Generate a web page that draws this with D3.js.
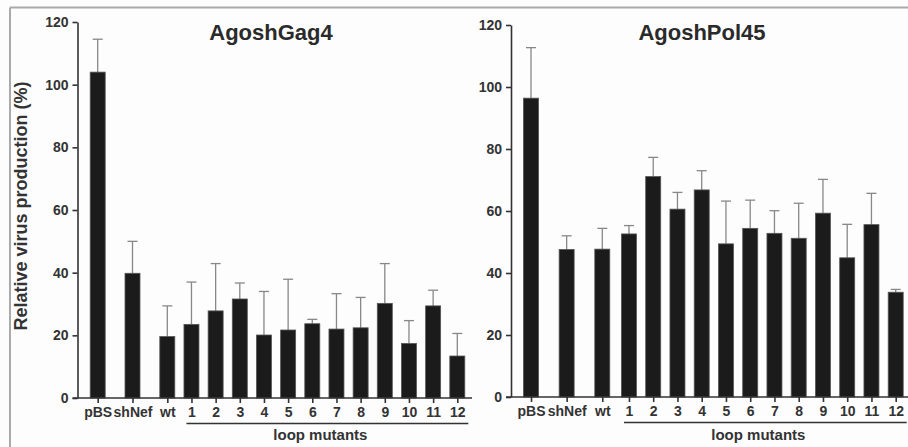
<!DOCTYPE html>
<html>
<head>
<meta charset="utf-8">
<script src="https://cdn.jsdelivr.net/npm/d3@7"></script>
<style>
  body { margin: 0; background: #fdfdfd; }
  svg { display: block; font-family: "Liberation Sans", Arial, sans-serif; }
  .axis path, .axis line { stroke: #333; stroke-width: 1.6; }
  .axis text { fill: #333; font-weight: bold; font-family: "Liberation Sans", Arial, sans-serif; }
</style>
</head>
<body>
<div id="chart"></div>
<script>
// categories along the x axis (same for both panels)
var categories = ["pBS", "shNef", "wt", "1", "2", "3", "4", "5", "6", "7", "8", "9", "10", "11", "12"];
var yTicks = [0, 20, 40, 60, 80, 100, 120];

// AgoshGag4 panel: mean and upper error (SD)
var gagMeans = [104, 39.8, 19.6, 23.5, 27.8, 31.6, 20.1, 21.7, 23.7, 22.0, 22.4, 30.2, 17.4, 29.4, 13.4];
var gagErr   = [10.5, 10.2, 9.8, 13.5, 15.1, 5.1, 13.9, 16.2, 1.4, 11.3, 9.7, 12.7, 7.3, 5.0, 7.2];

// AgoshPol45 panel
var polMeans = [96.4, 47.6, 47.7, 52.6, 71.1, 60.6, 66.8, 49.4, 54.4, 52.8, 51.2, 59.3, 44.9, 55.6, 33.8];
var polErr   = [16.3, 4.4, 6.7, 2.7, 6.2, 5.4, 6.2, 13.8, 9.1, 7.3, 11.3, 10.9, 10.8, 10.1, 0.9];

var width = 908, height = 447;

var svg = d3.select("#chart").append("svg")
  .attr("width", width)
  .attr("height", height);

svg.append("rect").attr("width", width).attr("height", height).attr("fill", "#fdfdfd");

// grey frame (top and left edges only are visible)
svg.append("line").attr("x1", 10).attr("x2", width).attr("y1", 7.5).attr("y2", 7.5)
  .attr("stroke", "#aaa").attr("stroke-width", 2);
svg.append("line").attr("x1", 10).attr("x2", 10).attr("y1", 7.5).attr("y2", height)
  .attr("stroke", "#aaa").attr("stroke-width", 2);

// draw one panel
function drawPanel(p) {
  var g = svg.append("g");

  // slot position of each category: controls wider apart, then mutants
  function slot(i) {
    return i <= 2 ? i * p.ctrlStep : 2 * p.ctrlStep + p.mutGap + (i - 3);
  }
  var lastSlot = slot(categories.length - 1);

  var xLinear = d3.scaleLinear().domain([0, lastSlot]).range([p.x0, p.x1]);
  var x = d3.scaleOrdinal()
    .domain(categories)
    .range(categories.map((c, i) => xLinear(slot(i))));

  var y = d3.scaleLinear().domain([0, 120]).range([p.yBottom, p.yTop]);

  var barW = 15;

  // error bars (drawn behind bars)
  var err = g.selectAll(".err")
    .data(categories)
    .enter()
    .append("g")
    .attr("class", "err");

  err.append("line")
    .attr("x1", d => x(d)).attr("x2", d => x(d))
    .attr("y1", (d, i) => y(p.means[i]))
    .attr("y2", (d, i) => y(p.means[i] + p.err[i]))
    .attr("stroke", "#888").attr("stroke-width", 1.3);

  err.append("line")
    .attr("x1", d => x(d) - 5).attr("x2", d => x(d) + 5)
    .attr("y1", (d, i) => y(p.means[i] + p.err[i]))
    .attr("y2", (d, i) => y(p.means[i] + p.err[i]))
    .attr("stroke", "#888").attr("stroke-width", 1.3);

  // bars
  g.selectAll(".bar")
    .data(categories)
    .enter()
    .append("rect")
    .attr("class", "bar")
    .attr("x", d => x(d) - barW / 2)
    .attr("width", barW)
    .attr("y", (d, i) => y(p.means[i]))
    .attr("height", (d, i) => y(0) - y(p.means[i]))
    .attr("fill", "#1b1b1b")
    .attr("stroke", "#555")
    .attr("stroke-width", 0.8);

  // y axis
  var yAxis = g.append("g")
    .attr("class", "axis")
    .attr("transform", `translate(${p.axisX},0)`)
    .call(d3.axisLeft(y).tickValues(yTicks).tickSize(5).tickSizeOuter(0).tickPadding(4));
  yAxis.attr("font-size", null).attr("font-family", null);
  yAxis.selectAll("text").style("font-size", "14px");

  // x axis
  var xAxis = g.append("g")
    .attr("class", "axis")
    .attr("transform", `translate(0,${p.yBottom})`)
    .call(d3.axisBottom(x).tickSize(5).tickPadding(4));
  xAxis.attr("font-size", null).attr("font-family", null);
  xAxis.select(".domain").remove();
  xAxis.selectAll("text").style("font-size", "14px");
  g.append("line")
    .attr("x1", p.axisX - 5).attr("x2", p.xEnd)
    .attr("y1", p.yBottom).attr("y2", p.yBottom)
    .attr("stroke", "#333").attr("stroke-width", 1.6);

  // loop mutants bracket
  g.append("line")
    .attr("x1", x("1") - 5).attr("x2", Math.min(x("12") + 11, width))
    .attr("y1", p.yBottom + 25.5).attr("y2", p.yBottom + 25.5)
    .attr("stroke", "#333").attr("stroke-width", 1.6);
  g.append("text")
    .attr("x", (x("1") + x("12")) / 2 - 4)
    .attr("y", 439.5)
    .attr("text-anchor", "middle")
    .attr("font-size", "15px")
    .attr("font-weight", "bold")
    .attr("fill", "#333")
    .text("loop mutants");

  // title
  g.append("text")
    .attr("x", p.titleX)
    .attr("y", 40)
    .attr("text-anchor", "middle")
    .attr("font-size", "22px")
    .attr("font-weight", "bold")
    .attr("fill", "#2a2a2a")
    .text(p.title);
}

drawPanel({
  title: "AgoshGag4", titleX: 271,
  means: gagMeans, err: gagErr,
  x0: 97.7, x1: 457.3, ctrlStep: 1.44, mutGap: 1.0,
  axisX: 77.5, xEnd: 472,
  yBottom: 398, yTop: 22
});

drawPanel({
  title: "AgoshPol45", titleX: 702,
  means: polMeans, err: polErr,
  x0: 531, x1: 895.7, ctrlStep: 1.47, mutGap: 1.1,
  axisX: 511, xEnd: 908,
  yBottom: 397, yTop: 25
});

// y axis label
svg.append("text")
  .attr("transform", "translate(27,206) rotate(-90)")
  .attr("text-anchor", "middle")
  .attr("font-size", "18px")
  .attr("font-weight", "bold")
  .attr("fill", "#333")
  .text("Relative virus production (%)");
</script>
</body>
</html>
